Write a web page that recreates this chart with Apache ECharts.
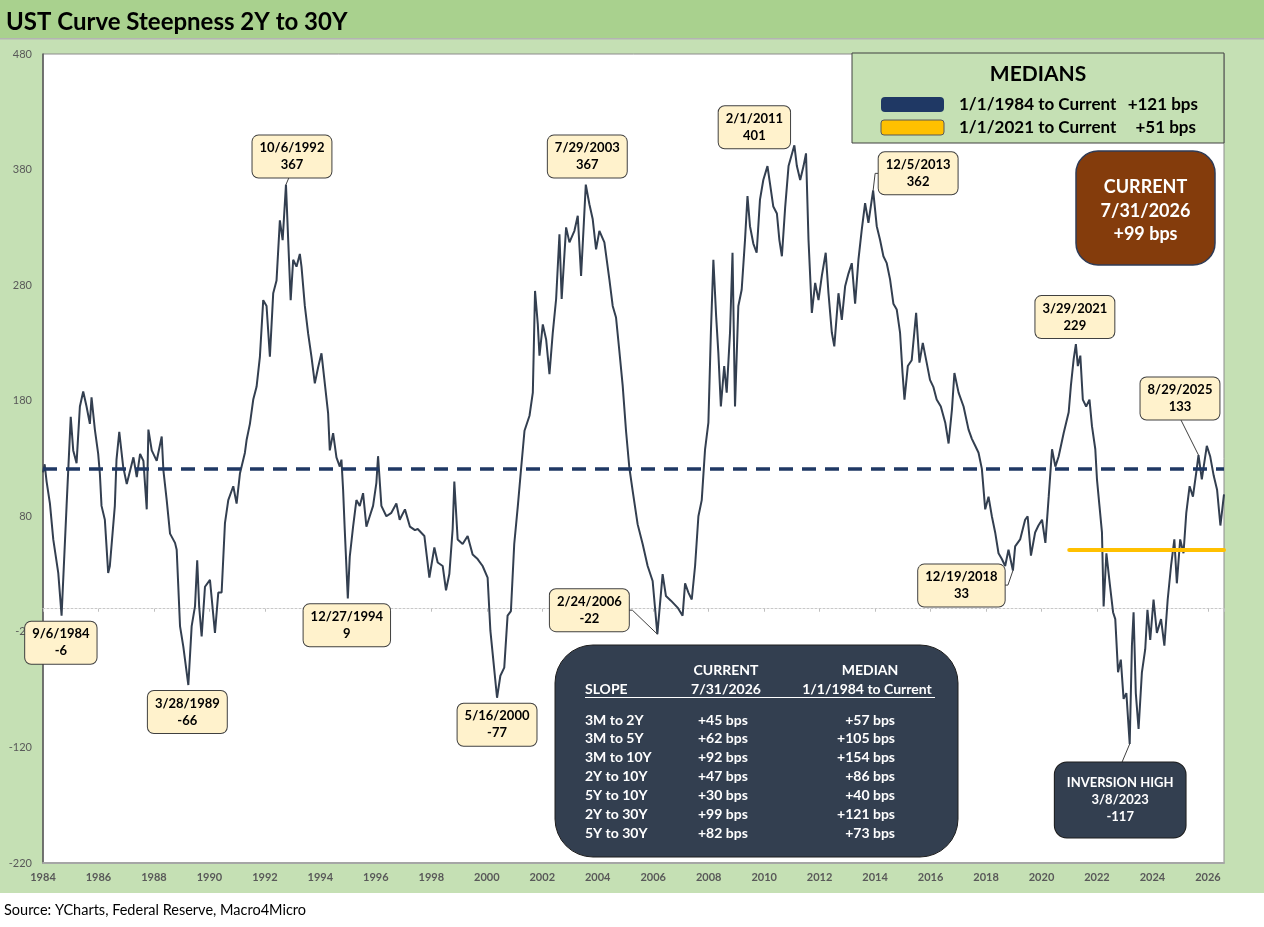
<!DOCTYPE html>
<html>
<head>
<meta charset="utf-8">
<title>UST Curve Steepness 2Y to 30Y</title>
<script src="https://cdn.jsdelivr.net/npm/echarts@6/dist/echarts.min.js"></script>
<style>
  html, body { margin: 0; padding: 0; background: #fff; }
  #chart { width: 1264px; height: 927px; }
</style>
</head>
<body>
<div id="chart"></div>
<script>
// 2Y-30Y spread (bps), decimal year / value
const obsYear = [
  1984.00, 1984.06, 1984.13, 1984.25, 1984.37, 1984.55, 1984.67, 1984.85, 1985.00, 1985.09,
  1985.21, 1985.33, 1985.45, 1985.57, 1985.69, 1985.75, 1985.87, 1985.99, 1986.05, 1986.11,
  1986.23, 1986.35, 1986.41, 1986.59, 1986.65, 1986.75, 1986.89, 1987.02, 1987.26, 1987.38,
  1987.50, 1987.62, 1987.74, 1987.80, 1987.92, 1988.10, 1988.28, 1988.34, 1988.46, 1988.58,
  1988.76, 1988.82, 1988.94, 1989.06, 1989.24, 1989.36, 1989.48, 1989.56, 1989.63, 1989.72,
  1989.84, 1990.02, 1990.20, 1990.32, 1990.44, 1990.56, 1990.68, 1990.86, 1990.98, 1991.10,
  1991.28, 1991.34, 1991.46, 1991.58, 1991.70, 1991.82, 1991.94, 1992.06, 1992.18, 1992.30,
  1992.42, 1992.54, 1992.64, 1992.76, 1992.84, 1992.93, 1993.02, 1993.14, 1993.26, 1993.32,
  1993.44, 1993.56, 1993.68, 1993.80, 1993.92, 1994.04, 1994.16, 1994.28, 1994.34, 1994.46,
  1994.58, 1994.70, 1994.76, 1994.82, 1994.88, 1994.99, 1995.06, 1995.18, 1995.30, 1995.42,
  1995.54, 1995.66, 1995.78, 1995.90, 1996.02, 1996.08, 1996.20, 1996.38, 1996.56, 1996.74,
  1996.86, 1997.05, 1997.23, 1997.41, 1997.51, 1997.75, 1997.93, 1998.11, 1998.23, 1998.41,
  1998.53, 1998.65, 1998.77, 1998.83, 1998.95, 1999.13, 1999.31, 1999.49, 1999.67, 1999.85,
  2000.03, 2000.13, 2000.25, 2000.37, 2000.49, 2000.63, 2000.75, 2000.87, 2000.99, 2001.12,
  2001.24, 2001.36, 2001.54, 2001.66, 2001.74, 2001.84, 2001.90, 2002.02, 2002.14, 2002.26,
  2002.38, 2002.50, 2002.62, 2002.70, 2002.86, 2002.98, 2003.16, 2003.28, 2003.40, 2003.50,
  2003.57, 2003.70, 2003.82, 2003.94, 2004.06, 2004.24, 2004.42, 2004.54, 2004.66, 2004.78,
  2004.90, 2005.02, 2005.14, 2005.26, 2005.44, 2005.62, 2005.80, 2005.98, 2006.15, 2006.34,
  2006.46, 2006.64, 2006.88, 2007.06, 2007.15, 2007.27, 2007.39, 2007.51, 2007.63, 2007.75,
  2007.87, 2007.99, 2008.08, 2008.17, 2008.27, 2008.35, 2008.44, 2008.56, 2008.65, 2008.77,
  2008.86, 2008.95, 2009.07, 2009.19, 2009.31, 2009.40, 2009.49, 2009.61, 2009.73, 2009.85,
  2009.97, 2010.12, 2010.21, 2010.33, 2010.46, 2010.55, 2010.64, 2010.76, 2010.88, 2011.09,
  2011.18, 2011.30, 2011.42, 2011.51, 2011.60, 2011.72, 2011.84, 2011.96, 2012.08, 2012.22,
  2012.32, 2012.44, 2012.53, 2012.68, 2012.80, 2012.92, 2013.04, 2013.16, 2013.28, 2013.40,
  2013.52, 2013.64, 2013.76, 2013.93, 2014.06, 2014.18, 2014.30, 2014.42, 2014.54, 2014.66,
  2014.78, 2014.90, 2014.99, 2015.06, 2015.18, 2015.32, 2015.48, 2015.60, 2015.72, 2015.86,
  2015.98, 2016.10, 2016.22, 2016.37, 2016.53, 2016.65, 2016.77, 2016.86, 2017.01, 2017.19,
  2017.37, 2017.49, 2017.61, 2017.73, 2017.85, 2017.97, 2018.09, 2018.21, 2018.33, 2018.45,
  2018.57, 2018.69, 2018.81, 2018.97, 2019.05, 2019.23, 2019.41, 2019.50, 2019.62, 2019.77,
  2019.89, 2020.02, 2020.14, 2020.26, 2020.38, 2020.50, 2020.62, 2020.80, 2020.98, 2021.06,
  2021.16, 2021.24, 2021.31, 2021.40, 2021.49, 2021.61, 2021.73, 2021.82, 2021.94, 2022.00,
  2022.09, 2022.18, 2022.24, 2022.34, 2022.46, 2022.58, 2022.66, 2022.76, 2022.86, 2022.96,
  2023.06, 2023.18, 2023.26, 2023.32, 2023.40, 2023.50, 2023.62, 2023.74, 2023.82, 2023.92,
  2024.04, 2024.16, 2024.31, 2024.43, 2024.55, 2024.67, 2024.79, 2024.88, 2025.00, 2025.12,
  2025.22, 2025.34, 2025.46, 2025.58, 2025.66, 2025.78, 2025.96, 2026.08, 2026.21, 2026.33,
  2026.45, 2026.58
];
const obsBps = [
  118, 125, 110, 91, 60, 31, -6, 89, 166, 137,
  126, 175, 188, 175, 160, 183, 155, 134, 117, 89,
  77, 31, 37, 89, 129, 153, 123, 108, 131, 114,
  134, 128, 86, 155, 137, 128, 149, 120, 94, 65,
  57, 51, -15, -33, -66, -15, 2, 42, 2, -24,
  19, 25, -21, 14, 14, 74, 94, 106, 91, 117,
  135, 146, 160, 181, 192, 218, 267, 262, 218, 273,
  284, 336, 319, 367, 319, 267, 302, 296, 307, 296,
  262, 238, 218, 195, 209, 221, 195, 169, 137, 152,
  131, 123, 129, 103, 68, 9, 45, 71, 94, 89,
  100, 71, 80, 89, 109, 132, 89, 80, 83, 91,
  77, 86, 71, 68, 69, 63, 27, 53, 40, 37,
  16, 30, 69, 110, 60, 56, 63, 47, 43, 37,
  27, -19, -48, -77, -58, -51, -6, -2, 56, 89,
  122, 154, 167, 187, 275, 246, 219, 246, 233, 203,
  239, 268, 324, 268, 330, 317, 327, 340, 288, 334,
  367, 350, 337, 311, 327, 317, 285, 262, 252, 223,
  193, 154, 122, 102, 73, 56, 37, 24, -22, 30,
  11, 7, 1, -6, 22, 14, 8, 37, 80, 94,
  138, 161, 239, 302, 253, 221, 175, 210, 187, 239,
  308, 175, 262, 276, 319, 357, 331, 316, 308, 354,
  371, 383, 368, 348, 342, 319, 305, 348, 383, 401,
  383, 371, 383, 394, 319, 256, 282, 267, 288, 308,
  273, 239, 227, 273, 250, 279, 290, 299, 264, 302,
  328, 351, 334, 362, 331, 319, 305, 299, 285, 264,
  259, 239, 204, 181, 210, 215, 256, 213, 230, 213,
  198, 192, 181, 175, 161, 143, 172, 204, 187, 175,
  155, 147, 141, 135, 121, 86, 97, 80, 66, 48,
  43, 37, 51, 33, 54, 60, 77, 80, 46, 66,
  72, 77, 57, 97, 138, 123, 132, 152, 170, 193,
  216, 229, 210, 219, 181, 175, 181, 158, 138, 112,
  89, 66, 2, 48, 22, -3, -9, -55, -44, -78,
  -73, -117, -32, -3, -73, -104, -55, -35, -1, -27,
  8, -21, -9, -32, 8, 37, 60, 22, 60, 48,
  83, 106, 97, 118, 133, 112, 141, 132, 115, 103,
  72, 99
];

// medians
const medianFullBps = 121;
const medianRecentBps = 51;
const medianRecentStart = 2021.0;
const lastYear = 2026.58;

// labelled turning points
const calloutDates = ['9/6/1984', '3/28/1989', '10/6/1992', '12/27/1994', '5/16/2000', '7/29/2003',
  '2/24/2006', '2/1/2011', '12/5/2013', '3/29/2021', '8/29/2025', '12/19/2018'];
const calloutYears = [1984.68, 1989.24, 1992.76, 1994.99, 2000.37, 2003.57,
  2006.15, 2011.09, 2013.93, 2021.24, 2025.66, 2018.97];
const calloutBps = [-6, -66, 367, 9, -77, 367, -22, 401, 362, 229, 133, 33];

const inversionDate = '3/8/2023';
const inversionYear = 2023.18;
const inversionBps = -117;

// summary table
const slopeNames = ['3M to 2Y', '3M to 5Y', '3M to 10Y', '2Y to 10Y', '5Y to 10Y', '2Y to 30Y', '5Y to 30Y'];
const slopeCurrent = ['+45 bps', '+62 bps', '+92 bps', '+47 bps', '+30 bps', '+99 bps', '+82 bps'];
const slopeMedian = ['+57 bps', '+105 bps', '+154 bps', '+86 bps', '+40 bps', '+121 bps', '+73 bps'];

// layout of callout boxes relative to their point (box centre offset, leader path)
const calloutLayout = [
  { dx: -1, dy: 27 },
  { dx: -1, dy: 27 },
  { dx: 6, dy: -28, leader: [[3, -7]] },
  { dx: -1, dy: 27 },
  { dx: 0, dy: 27 },
  { dx: 1.5, dy: -28 },
  { dx: -68, dy: -24, leader: [[-25, -24], [-31, -24]] },
  { dx: -40, dy: -18 },
  { dx: 45, dy: -17, leader: [[2, -17], [7, -17]] },
  { dx: -1, dy: -27 },
  { dx: -18.5, dy: -56.5, leader: [[-18, -36]] },
  { dx: -51.5, dy: 15, leader: [[-5, 14.5], [-11, 14.5]] }
];

const FONT = 'Lato, "Open Sans", sans-serif';
const LINE_COLOR = '#333f50';

const chart = echarts.init(document.getElementById('chart'));

const seriesData = obsYear.map((y, i) => [y, obsBps[i]]);

const evenYearLabel = (v) => {
  const r = Math.round(v);
  return Math.abs(v - r) < 1e-6 && r % 2 === 0 ? String(r) : '';
};

chart.setOption({
  backgroundColor: '#c5e0b4',
  animation: false,
  grid: {
    left: 43,
    right: 40,
    top: 54,
    bottom: 64,
    show: true,
    backgroundColor: '#ffffff',
    borderColor: '#8c8c8c',
    borderWidth: 1
  },
  xAxis: [
    {
      type: 'value',
      min: 1984,
      max: lastYear,
      interval: 2,
      position: 'bottom',
      axisLine: { onZero: false, lineStyle: { color: '#a6a6a6', width: 2 } },
      axisTick: { show: false },
      splitLine: { show: false },
      axisLabel: {
        formatter: evenYearLabel,
        color: '#595959',
        fontFamily: FONT,
        fontSize: 11,
        fontWeight: 'bold',
        margin: 9
      }
    },
    {
      // horizontal axis crossing at zero: dotted line with small ticks
      type: 'value',
      min: 1984,
      max: lastYear,
      interval: 2,
      position: 'top',
      axisLine: { onZero: true, lineStyle: { color: '#c8c8c8', width: 1, type: [2, 2] } },
      axisTick: { show: true, inside: true, length: 3, lineStyle: { color: '#bfbfbf' } },
      axisLabel: { show: false },
      splitLine: { show: false }
    }
  ],
  yAxis: {
    type: 'value',
    min: -220,
    max: 480,
    interval: 100,
    axisLine: { show: true, lineStyle: { color: '#595959', width: 1.5 } },
    axisTick: { show: false },
    splitLine: { show: false },
    axisLabel: {
      color: '#595959',
      fontFamily: FONT,
      fontSize: 11,
      margin: 11
    }
  },
  series: [
    {
      name: '2Y to 30Y',
      type: 'line',
      xAxisIndex: 0,
      data: seriesData,
      symbol: 'none',
      lineStyle: { color: LINE_COLOR, width: 2 },
      z: 3,
      markLine: {
        silent: true,
        symbol: ['none', 'none'],
        label: { show: false },
        data: [
          { yAxis: medianFullBps, lineStyle: { color: '#1f3864', width: 3.5, type: [14, 9] } },
          [
            { coord: [medianRecentStart, medianRecentBps], lineStyle: { color: '#ffc000', width: 4, type: 'solid', cap: 'round' } },
            { coord: [lastYear, medianRecentBps] }
          ]
        ]
      }
    }
  ]
});

// static panels
const graphics = [
  { type: 'rect', shape: { x: 0, y: 0, width: 1264, height: 38 }, style: { fill: '#a9d18e' }, z: 50 },
  { type: 'rect', shape: { x: 0, y: 38, width: 1264, height: 1.5 }, style: { fill: '#b4b4b4' }, z: 50 },
  {
    type: 'text', x: 6, y: 22, z: 51,
    style: { text: 'UST Curve Steepness 2Y to 30Y', font: 'bold 24px ' + FONT, fill: '#000', verticalAlign: 'middle' }
  },
  { type: 'rect', shape: { x: 0, y: 893, width: 1264, height: 34 }, style: { fill: '#ffffff' }, z: 50 },
  {
    type: 'text', x: 4, y: 910, z: 51,
    style: { text: 'Source: YCharts, Federal Reserve, Macro4Micro', font: '14.5px ' + FONT, fill: '#000', verticalAlign: 'middle' }
  },

  // medians legend
  { type: 'rect', shape: { x: 852, y: 53, width: 372, height: 90 }, style: { fill: '#c5e0b4', stroke: '#404040', lineWidth: 1 }, z: 60 },
  { type: 'text', x: 1038, y: 74, z: 61, style: { text: 'MEDIANS', font: 'bold 21px ' + FONT, fill: '#000', align: 'center', verticalAlign: 'middle' } },
  { type: 'rect', shape: { x: 881, y: 97, width: 63, height: 15, r: 4 }, style: { fill: '#1f3864' }, z: 61 },
  { type: 'rect', shape: { x: 881, y: 120, width: 63, height: 15, r: 3 }, style: { fill: '#ffc000', stroke: '#595959', lineWidth: 1 }, z: 61 },
  { type: 'text', x: 959, y: 105, z: 61, style: { text: '1/1/1984 to Current', font: 'bold 17px ' + FONT, fill: '#000', verticalAlign: 'middle' } },
  { type: 'text', x: 1198, y: 105, z: 61, style: { text: '+' + medianFullBps + ' bps', font: 'bold 17px ' + FONT, fill: '#000', align: 'right', verticalAlign: 'middle' } },
  { type: 'text', x: 959, y: 128, z: 61, style: { text: '1/1/2021 to Current', font: 'bold 17px ' + FONT, fill: '#000', verticalAlign: 'middle' } },
  { type: 'text', x: 1196, y: 128, z: 61, style: { text: '+' + medianRecentBps + ' bps', font: 'bold 17px ' + FONT, fill: '#000', align: 'right', verticalAlign: 'middle' } },

  // current box
  { type: 'rect', shape: { x: 1076, y: 151, width: 139, height: 114, r: 22 }, style: { fill: '#843c0c', stroke: '#2f3b55', lineWidth: 1.5 }, z: 60 },
  { type: 'text', x: 1145.5, y: 187, z: 61, style: { text: 'CURRENT', font: 'bold 18px ' + FONT, fill: '#fff', align: 'center', verticalAlign: 'middle' } },
  { type: 'text', x: 1145.5, y: 211, z: 61, style: { text: '7/31/2026', font: 'bold 18px ' + FONT, fill: '#fff', align: 'center', verticalAlign: 'middle' } },
  { type: 'text', x: 1145.5, y: 234, z: 61, style: { text: '+99 bps', font: 'bold 18px ' + FONT, fill: '#fff', align: 'center', verticalAlign: 'middle' } },

  // slope table
  { type: 'rect', shape: { x: 555, y: 645, width: 403, height: 212, r: 38 }, style: { fill: '#333f50', stroke: '#1e1e1e', lineWidth: 1 }, z: 60 },
  { type: 'text', x: 726, y: 670, z: 61, style: { text: 'CURRENT', font: 'bold 14px ' + FONT, fill: '#fff', align: 'center', verticalAlign: 'middle' } },
  { type: 'text', x: 870, y: 670, z: 61, style: { text: 'MEDIAN', font: 'bold 14px ' + FONT, fill: '#fff', align: 'center', verticalAlign: 'middle' } },
  { type: 'text', x: 585, y: 689, z: 61, style: { text: 'SLOPE', font: 'bold 14px ' + FONT, fill: '#fff', verticalAlign: 'middle' } },
  { type: 'text', x: 726, y: 689, z: 61, style: { text: '7/31/2026', font: 'bold 14px ' + FONT, fill: '#fff', align: 'center', verticalAlign: 'middle' } },
  { type: 'text', x: 867, y: 689, z: 61, style: { text: '1/1/1984 to Current', font: 'bold 14px ' + FONT, fill: '#fff', align: 'center', verticalAlign: 'middle' } },
  { type: 'rect', shape: { x: 585, y: 697, width: 350, height: 1 }, style: { fill: '#ffffff' }, z: 61 }
];

slopeNames.forEach((name, i) => {
  const y = 720 + i * 18.9;
  graphics.push(
    { type: 'text', x: 585, y: y, z: 61, style: { text: name, font: 'bold 14px ' + FONT, fill: '#fff', verticalAlign: 'middle' } },
    { type: 'text', x: 698, y: y, z: 61, style: { text: slopeCurrent[i], font: 'bold 14px ' + FONT, fill: '#fff', verticalAlign: 'middle' } },
    { type: 'text', x: 895, y: y, z: 61, style: { text: slopeMedian[i], font: 'bold 14px ' + FONT, fill: '#fff', align: 'right', verticalAlign: 'middle' } }
  );
});

// callouts anchored to the data points
calloutDates.forEach((d, i) => {
  const p = chart.convertToPixel({ xAxisIndex: 0, yAxisIndex: 0 }, [calloutYears[i], calloutBps[i]]);
  const lay = calloutLayout[i];
  if (lay.leader) {
    const pts = [p].concat(lay.leader.map(o => [p[0] + o[0], p[1] + o[1]]));
    graphics.push({ type: 'polyline', z: 55, shape: { points: pts }, style: { stroke: '#404040', lineWidth: 1, fill: null } });
  }
  graphics.push({
    type: 'text', z: 56,
    x: p[0] + lay.dx, y: p[1] + lay.dy,
    style: {
      text: d + '\n' + calloutBps[i],
      font: 'bold 13px ' + FONT,
      fill: '#000',
      align: 'center',
      verticalAlign: 'middle',
      lineHeight: 17,
      backgroundColor: '#fff2cc',
      borderColor: '#404040',
      borderWidth: 1,
      borderRadius: 6,
      padding: [4, 7]
    }
  });
});

// inversion high box
(function () {
  const p = chart.convertToPixel({ xAxisIndex: 0, yAxisIndex: 0 }, [inversionYear, inversionBps]);
  graphics.push({ type: 'polyline', z: 55, shape: { points: [p, [p[0] - 8, p[1] + 19]] }, style: { stroke: '#404040', lineWidth: 1, fill: null } });
  graphics.push({
    type: 'text', z: 56,
    x: p[0] - 9.5, y: p[1] + 56,
    style: {
      text: 'INVERSION HIGH\n' + inversionDate + '\n' + inversionBps,
      font: 'bold 13px ' + FONT,
      fill: '#fff',
      align: 'center',
      verticalAlign: 'middle',
      lineHeight: 17,
      backgroundColor: '#333f50',
      borderColor: '#1e1e1e',
      borderWidth: 1,
      borderRadius: 12,
      padding: [12, 12]
    }
  });
})();

chart.setOption({ graphic: { elements: graphics } });
</script>
</body>
</html>
